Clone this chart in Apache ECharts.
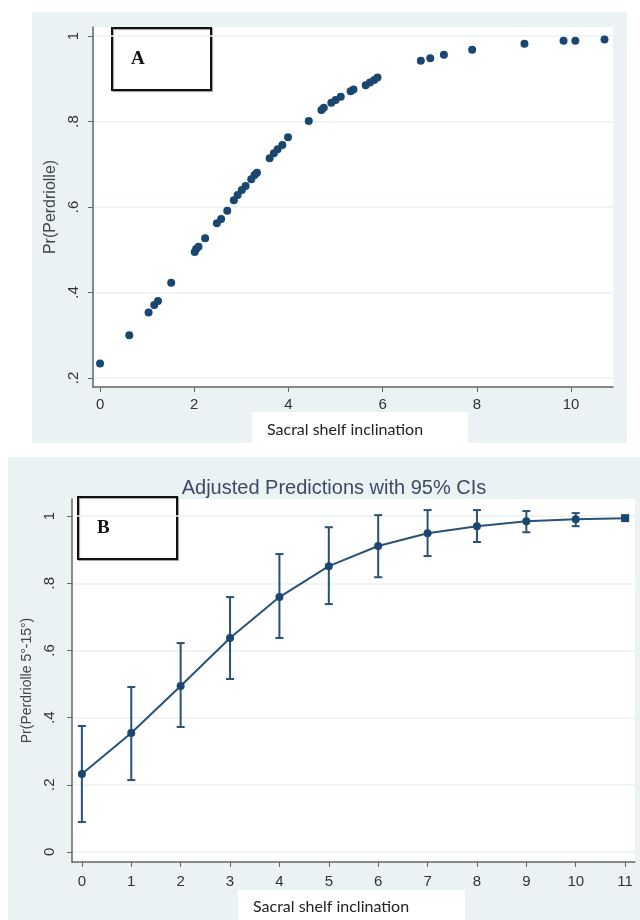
<!DOCTYPE html>
<html>
<head>
<meta charset="utf-8">
<script src="https://cdn.jsdelivr.net/npm/echarts@6/dist/echarts.min.js"></script>
<style>
  html, body { margin: 0; padding: 0; background: #fff; }
  #chart { width: 640px; height: 920px; }
</style>
</head>
<body>
<div id="chart"></div>
<script>
// panel A: observed predicted probabilities
const shelfA = [0, 0.62, 1.03, 1.15, 1.23, 1.51, 2.01, 2.04, 2.09, 2.23, 2.48, 2.57, 2.70, 2.84, 2.92,
  3.01, 3.09, 3.21, 3.28, 3.33, 3.60, 3.69, 3.77, 3.87, 3.99, 4.43, 4.70, 4.75, 4.91, 5.00, 5.11,
  5.32, 5.38, 5.64, 5.73, 5.82, 5.89, 6.81, 7.01, 7.30, 7.90, 9.01, 9.84, 10.09, 10.71]
const probA = [0.234, 0.300, 0.353, 0.371, 0.380, 0.423, 0.495, 0.502, 0.507, 0.527, 0.562, 0.572, 0.591, 0.616, 0.628,
  0.640, 0.649, 0.665, 0.675, 0.680, 0.714, 0.726, 0.735, 0.745, 0.763, 0.801, 0.827, 0.832, 0.844, 0.850, 0.858,
  0.871, 0.875, 0.885, 0.891, 0.897, 0.903, 0.942, 0.948, 0.956, 0.968, 0.982, 0.989, 0.989, 0.992]
const xTicksA = [0, 2, 4, 6, 8, 10]
const yTicksA = [0.2, 0.4, 0.6, 0.8, 1]

// panel B: adjusted predictions with 95% CIs
const shelfB = [0, 1, 2, 3, 4, 5, 6, 7, 8, 9, 10, 11]
const predB = [0.232, 0.354, 0.494, 0.637, 0.759, 0.851, 0.911, 0.949, 0.970, 0.985, 0.991, 0.994]
const lowerB = [0.089, 0.214, 0.372, 0.515, 0.637, 0.738, 0.818, 0.881, 0.923, 0.952, 0.970, 0.990]
const upperB = [0.375, 0.491, 0.622, 0.759, 0.887, 0.967, 1.003, 1.018, 1.018, 1.015, 1.009, 0.998]
const xTicksB = [0, 1, 2, 3, 4, 5, 6, 7, 8, 9, 10, 11]
const yTicksB = [0, 0.2, 0.4, 0.6, 0.8, 1]

const navy = '#1a476f'
const panelBg = '#eaf2f3'
const labelColor = '#333'

const fmtProb = v => {
  if (v === 0) return '0'
  if (v === 1) return '1'
  return String(Math.round(v * 10) / 10).replace(/^0/, '')
}

const xAxisStyle = (ticks, margin) => ({
  type: 'value',
  axisLine: { show: true, onZero: false, lineStyle: { color: '#666', width: 1.5 } },
  axisTick: { show: true, length: 5, customValues: ticks, lineStyle: { color: '#666' } },
  axisLabel: { customValues: ticks, margin: margin, color: labelColor, fontSize: 15, fontFamily: 'Liberation Sans' },
  splitLine: { show: false }
})

const yAxisStyle = (ticks, margin, name, nameGap, nameSize) => ({
  type: 'value',
  name: name,
  nameLocation: 'middle',
  nameGap: nameGap,
  nameTextStyle: { color: '#444', fontSize: nameSize, fontFamily: 'Liberation Sans' },
  axisLine: { show: true, onZero: false, lineStyle: { color: '#666', width: 1.5 } },
  axisTick: { show: true, length: 5, customValues: ticks, lineStyle: { color: '#666' } },
  axisLabel: {
    customValues: ticks, rotate: 90, margin: margin, color: labelColor,
    fontSize: 15, fontFamily: 'Liberation Sans', formatter: fmtProb
  },
  splitLine: { show: true, lineStyle: { color: '#eaf2f3', width: 1.5 } }
})

const labelBox = (letter, x, y) => ({
  type: 'group',
  left: x,
  top: y,
  z: 100,
  children: [
    {
      type: 'rect',
      shape: { x: 0, y: 0, width: 99, height: 62 },
      style: { fill: '#fff', stroke: '#111', lineWidth: 2, shadowColor: 'rgba(0,0,0,0.35)', shadowOffsetX: 1, shadowOffsetY: 1, shadowBlur: 1 }
    },
    {
      type: 'text',
      x: 19,
      y: 31,
      style: { text: letter, font: 'bold 19px "Liberation Serif"', fill: '#111', verticalAlign: 'middle' }
    }
  ]
})

const captionBox = (x, y, w, h) => ({
  type: 'group',
  left: x,
  top: y,
  z: 100,
  children: [
    { type: 'rect', shape: { x: 0, y: 0, width: w, height: h }, style: { fill: '#fff' } },
    {
      type: 'text',
      x: 15,
      y: h / 2 + 2,
      style: { text: 'Sacral shelf inclination', font: '16px Lato', fill: '#222', verticalAlign: 'middle' }
    }
  ]
})

const chart = echarts.init(document.getElementById('chart'), null, { renderer: 'canvas' })

chart.setOption({
  backgroundColor: '#fff',
  animation: false,
  title: {
    text: 'Adjusted Predictions with 95% CIs',
    left: 329,
    top: 473,
    textAlign: 'center',
    textStyle: { color: '#3c4a66', fontSize: 20, fontWeight: 'normal', fontFamily: 'Liberation Sans' }
  },
  graphic: [
    { type: 'rect', z: -10, shape: { x: 32, y: 12, width: 595, height: 431 }, style: { fill: panelBg } },
    { type: 'rect', z: -10, shape: { x: 8, y: 457, width: 632, height: 463 }, style: { fill: panelBg } },
    labelBox('A', 111, 27),
    labelBox('B', 77, 496),
    captionBox(252, 412, 216, 32),
    captionBox(238, 890, 227, 30)
  ],
  grid: [
    { left: 93, top: 27, width: 520, height: 360, show: true, backgroundColor: '#fff', borderWidth: 0 },
    { left: 72, top: 499, width: 563, height: 363, show: true, backgroundColor: '#fff', borderWidth: 0 }
  ],
  xAxis: [
    Object.assign(xAxisStyle(xTicksA, 10), { gridIndex: 0, min: -0.15, max: 10.89 }),
    Object.assign(xAxisStyle(xTicksB, 12), { gridIndex: 1, min: -0.2, max: 11.2 })
  ],
  yAxis: [
    Object.assign(yAxisStyle(yTicksA, 12, 'Pr(Perdriolle)', 27, 16), { gridIndex: 0, min: 0.179, max: 1.021 }),
    Object.assign(yAxisStyle(yTicksB, 15, 'Pr(Perdriolle 5°-15°)', 29, 14), { gridIndex: 1, min: -0.03, max: 1.051 })
  ],
  series: [
    {
      type: 'scatter',
      xAxisIndex: 0,
      yAxisIndex: 0,
      symbolSize: 8,
      itemStyle: { color: navy, opacity: 1 },
      data: shelfA.map((x, i) => [x, probA[i]])
    },
    {
      type: 'custom',
      xAxisIndex: 1,
      yAxisIndex: 1,
      data: shelfB.map((x, i) => [x, lowerB[i], upperB[i]]),
      renderItem: (params, api) => {
        const lo = api.coord([api.value(0), api.value(1)])
        const hi = api.coord([api.value(0), api.value(2)])
        const cap = 4
        const style = { stroke: '#2a5277', lineWidth: 2 }
        return {
          type: 'group',
          children: [
            { type: 'line', shape: { x1: lo[0], y1: lo[1], x2: hi[0], y2: hi[1] }, style },
            { type: 'line', shape: { x1: lo[0] - cap, y1: lo[1], x2: lo[0] + cap, y2: lo[1] }, style },
            { type: 'line', shape: { x1: hi[0] - cap, y1: hi[1], x2: hi[0] + cap, y2: hi[1] }, style }
          ]
        }
      }
    },
    {
      type: 'line',
      xAxisIndex: 1,
      yAxisIndex: 1,
      showSymbol: true,
      symbol: 'circle',
      symbolSize: 8,
      lineStyle: { color: '#2a5277', width: 2 },
      itemStyle: { color: navy },
      z: 5,
      data: shelfB.map((x, i) => i === shelfB.length - 1
        ? { value: [x, predB[i]], symbol: 'rect', symbolSize: 8 }
        : [x, predB[i]])
    }
  ]
})
</script>
</body>
</html>
